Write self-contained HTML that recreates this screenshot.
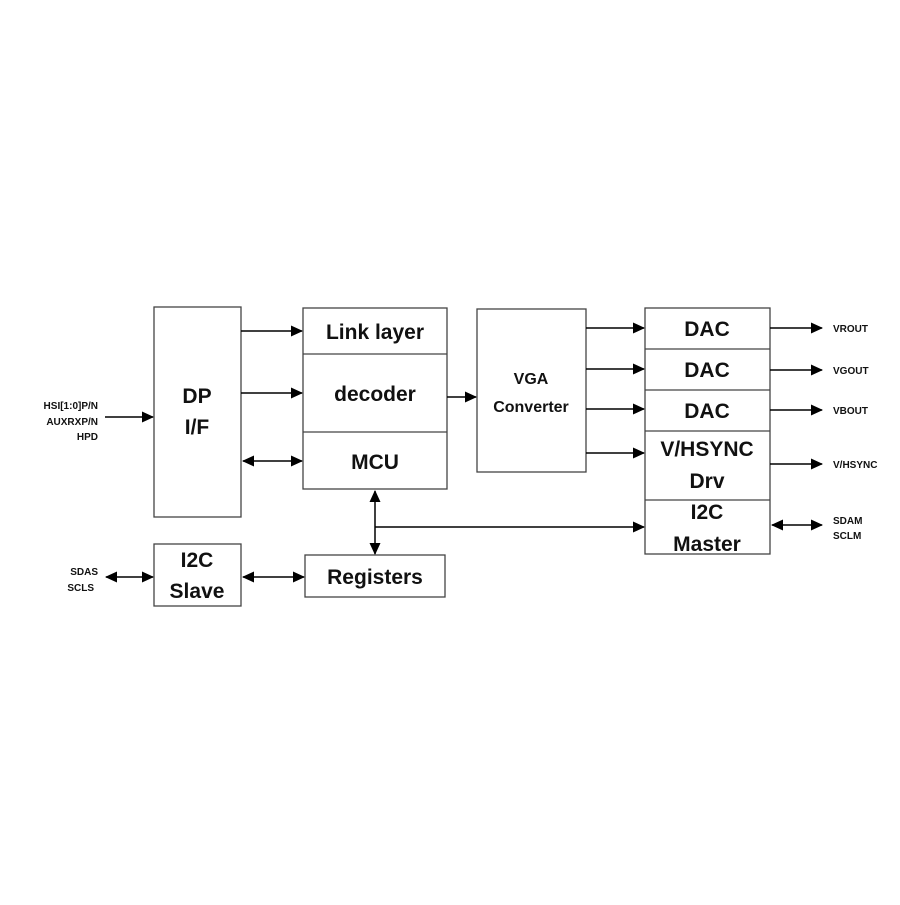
<!DOCTYPE html>
<html><head><style>
body{margin:0;background:#fff}
svg text{font-family:"Liberation Sans",sans-serif;font-weight:bold;fill:#111}
</style></head><body>
<svg width="900" height="900" viewBox="0 0 900 900" xmlns="http://www.w3.org/2000/svg">
<defs>
<marker id="a" markerWidth="12" markerHeight="12" refX="11" refY="6" orient="auto-start-reverse" markerUnits="userSpaceOnUse"><path d="M0,0.5 L12,6 L0,11.5 z" fill="#000"/></marker>
</defs>
<g fill="none" stroke="#444" stroke-width="1.3">
<rect x="154" y="307" width="87" height="210"/>
<rect x="303" y="308" width="144" height="181"/>
<line x1="303" y1="354" x2="447" y2="354"/>
<line x1="303" y1="432" x2="447" y2="432"/>
<rect x="154" y="544" width="87" height="62"/>
<rect x="305" y="555" width="140" height="42"/>
<rect x="477" y="309" width="109" height="163"/>
<rect x="645" y="308" width="125" height="246"/>
<line x1="645" y1="349" x2="770" y2="349"/>
<line x1="645" y1="390" x2="770" y2="390"/>
<line x1="645" y1="431" x2="770" y2="431"/>
<line x1="645" y1="500" x2="770" y2="500"/>
</g>
<g stroke="#000" stroke-width="1.5" fill="none">
<line x1="105" y1="417" x2="153" y2="417" marker-end="url(#a)"/>
<line x1="241" y1="331" x2="302" y2="331" marker-end="url(#a)"/>
<line x1="241" y1="393" x2="302" y2="393" marker-end="url(#a)"/>
<line x1="243" y1="461" x2="302" y2="461" marker-start="url(#a)" marker-end="url(#a)"/>
<line x1="447" y1="397" x2="476" y2="397" marker-end="url(#a)"/>
<line x1="375" y1="491" x2="375" y2="554" marker-start="url(#a)" marker-end="url(#a)"/>
<line x1="375" y1="527" x2="644" y2="527" marker-end="url(#a)"/>
<line x1="106" y1="577" x2="153" y2="577" marker-start="url(#a)" marker-end="url(#a)"/>
<line x1="243" y1="577" x2="304" y2="577" marker-start="url(#a)" marker-end="url(#a)"/>
<line x1="586" y1="328" x2="644" y2="328" marker-end="url(#a)"/>
<line x1="586" y1="369" x2="644" y2="369" marker-end="url(#a)"/>
<line x1="586" y1="409" x2="644" y2="409" marker-end="url(#a)"/>
<line x1="586" y1="453" x2="644" y2="453" marker-end="url(#a)"/>
<line x1="770" y1="328" x2="822" y2="328" marker-end="url(#a)"/>
<line x1="770" y1="370" x2="822" y2="370" marker-end="url(#a)"/>
<line x1="770" y1="410" x2="822" y2="410" marker-end="url(#a)"/>
<line x1="770" y1="464" x2="822" y2="464" marker-end="url(#a)"/>
<line x1="772" y1="525" x2="822" y2="525" marker-start="url(#a)" marker-end="url(#a)"/>
</g>
<g text-anchor="middle" font-size="21">
<text x="197" y="403">DP</text>
<text x="197" y="434">I/F</text>
<text x="375" y="339">Link layer</text>
<text x="375" y="401">decoder</text>
<text x="375" y="469">MCU</text>
<text x="197" y="567">I2C</text>
<text x="197" y="598">Slave</text>
<text x="375" y="584">Registers</text>
<text x="707" y="336">DAC</text>
<text x="707" y="377">DAC</text>
<text x="707" y="418">DAC</text>
<text x="707" y="456">V/HSYNC</text>
<text x="707" y="488">Drv</text>
<text x="707" y="519">I2C</text>
<text x="707" y="551">Master</text>
</g>
<g text-anchor="middle" font-size="16">
<text x="531" y="384">VGA</text>
<text x="531" y="412">Converter</text>
</g>
<g font-size="10" text-anchor="end">
<text x="98" y="409">HSI[1:0]P/N</text>
<text x="98" y="425">AUXRXP/N</text>
<text x="98" y="440">HPD</text>
<text x="98" y="575">SDAS</text>
<text x="94" y="591">SCLS</text>
</g>
<g font-size="10">
<text x="833" y="332">VROUT</text>
<text x="833" y="374">VGOUT</text>
<text x="833" y="414">VBOUT</text>
<text x="833" y="468">V/HSYNC</text>
<text x="833" y="524">SDAM</text>
<text x="833" y="539">SCLM</text>
</g>
</svg>
</body></html>
